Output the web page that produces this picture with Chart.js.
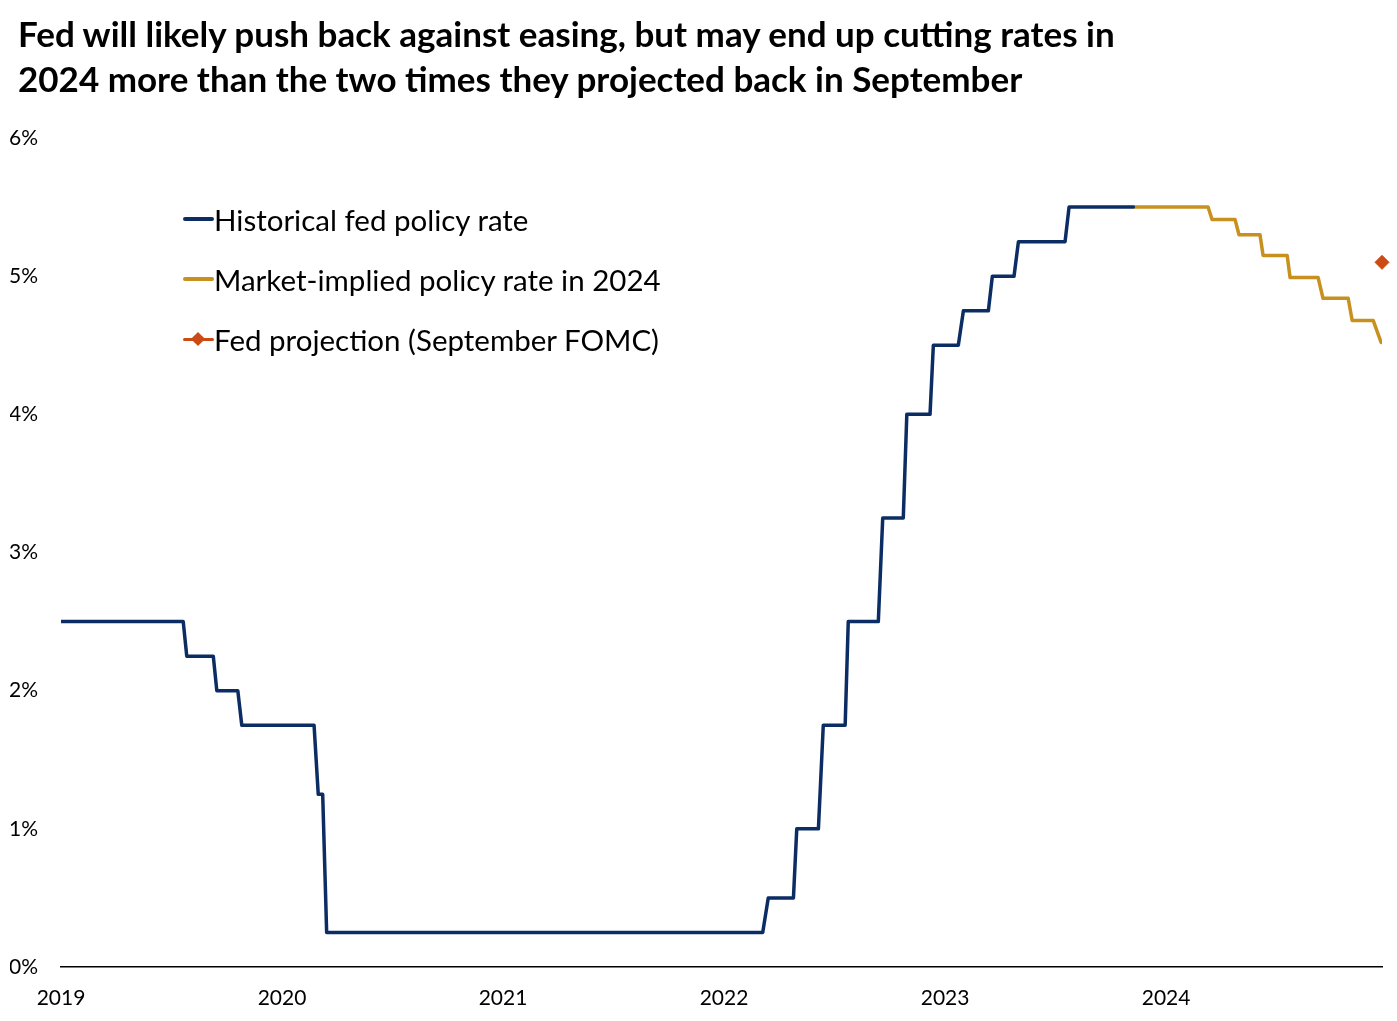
<!DOCTYPE html>
<html>
<head>
<meta charset="utf-8">
<script src="https://cdn.jsdelivr.net/npm/chart.js@4.4.1/dist/chart.umd.min.js"></script>
<style>
  html, body { margin: 0; padding: 0; background: #ffffff; }
  #wrap { position: relative; width: 1397px; height: 1021px; overflow: hidden; background: #fff; }
  #chart { position: absolute; left: 0; top: 0; }
  #title { position: absolute; left: 18px; top: 11px; font-family: Lato, "Open Sans", sans-serif; font-weight: 700;
           font-size: 35px; line-height: 45px; color: #000; white-space: nowrap; }
  #legend { position: absolute; left: 183px; top: 189px; font-family: Lato, "Open Sans", sans-serif; font-size: 29.5px; color: #000; }
  .row { height: 60px; display: flex; align-items: center; }
  .mk { position: relative; width: 31px; height: 20px; margin-right: 0px; }
  .mk .ln { position: absolute; left: 0; right: 0; top: 8px; height: 4px; border-radius: 2px; }
  .mk .dm { position: absolute; left: 10px; top: 5px; width: 10px; height: 10px; transform: rotate(45deg); transform-origin: center; }
</style>
</head>
<body>
<div id="wrap">
  <canvas id="chart" width="1397" height="1021"></canvas>
  <div id="title">Fed will likely push back against easing, but may end up cutting rates in<br>2024 more than the two times they projected back in September</div>
  <div id="legend"></div>
</div>
<script>
// ---- Data (x in decimal years, y in % policy rate) ----
const yearTicks = [2019, 2020, 2021, 2022, 2023, 2024];
const yTicks = [0, 1, 2, 3, 4, 5, 6];

const seriesLabels = ["Historical fed policy rate", "Market-implied policy rate in 2024", "Fed projection (September FOMC)"];

const histX = [2019.000, 2019.553, 2019.569, 2019.689, 2019.705, 2019.800, 2019.818, 2020.145, 2020.164, 2020.184, 2020.202,
               2022.175, 2022.200, 2022.314, 2022.329, 2022.427, 2022.449, 2022.548, 2022.562, 2022.698, 2022.718,
               2022.811, 2022.827, 2022.932, 2022.947, 2023.060, 2023.083, 2023.196, 2023.214, 2023.312, 2023.332,
               2023.543, 2023.561, 2023.852];
const histY = [2.50, 2.50, 2.25, 2.25, 2.00, 2.00, 1.75, 1.75, 1.25, 1.25, 0.25,
               0.25, 0.50, 0.50, 1.00, 1.00, 1.75, 1.75, 2.50, 2.50, 3.25,
               3.25, 4.00, 4.00, 4.50, 4.50, 4.75, 4.75, 5.00, 5.00, 5.25,
               5.25, 5.50, 5.50];

const mktX = [2023.852, 2024.190, 2024.208, 2024.312, 2024.330, 2024.425, 2024.439, 2024.548, 2024.561,
              2024.688, 2024.710, 2024.824, 2024.842, 2024.937, 2024.973, 2024.977];
const mktY = [5.50, 5.50, 5.41, 5.41, 5.30, 5.30, 5.15, 5.15, 4.99,
              4.99, 4.84, 4.84, 4.68, 4.68, 4.52, 4.52];

const projX = [2024.977];
const projY = [5.10];

const colors = ["#0B2D64", "#C8901F", "#CC4A14"];

const toPts = (xs, ys) => xs.map((x, i) => ({ x: x, y: ys[i] }));

const chart = new Chart(document.getElementById('chart'), {
  type: 'line',
  data: {
    datasets: [
      { label: seriesLabels[0], data: toPts(histX, histY), borderColor: colors[0], borderWidth: 3.5,
        pointRadius: 0, tension: 0, borderJoinStyle: 'round', borderCapStyle: 'round' },
      { label: seriesLabels[1], data: toPts(mktX, mktY), borderColor: colors[1], borderWidth: 3.5,
        pointRadius: 0, tension: 0, borderJoinStyle: 'round', borderCapStyle: 'butt' },
      { label: seriesLabels[2], data: toPts(projX, projY), borderColor: colors[2], backgroundColor: colors[2],
        showLine: false, pointStyle: 'rectRot', pointRadius: 7, pointBorderWidth: 1, clip: false }
    ]
  },
  options: {
    responsive: false,
    animation: false,
    devicePixelRatio: 1,
    layout: { padding: { left: 10, right: 15, top: 138, bottom: 0 } },
    plugins: { legend: { display: false }, tooltip: { enabled: false } },
    scales: {
      x: {
        type: 'linear', min: 2019, max: 2024.977,
        afterBuildTicks: (s) => { s.ticks = yearTicks.map(v => ({ value: v })); },
        afterFit: (s) => { s.height = 54; },
        ticks: { color: '#000', font: { family: 'Lato', size: 21 }, padding: 19, maxRotation: 0,
                 callback: (v) => String(v) },
        grid: { display: false, drawTicks: false },
        border: { display: true, color: '#000', width: 1.5 }
      },
      y: {
        min: 0, max: 6,
        afterBuildTicks: (s) => { s.ticks = yTicks.map(v => ({ value: v })); },
        afterFit: (s) => { s.width = 51; },
        ticks: { color: '#000', font: { family: 'Lato', size: 21 }, padding: 23,
                 callback: (v) => v + '%' },
        grid: { display: false, drawTicks: false },
        border: { display: false }
      }
    }
  }
});

// HTML legend built from the chart's datasets
const lg = document.getElementById('legend');
chart.data.datasets.forEach((ds, i) => {
  const row = document.createElement('div'); row.className = 'row';
  const mk = document.createElement('div'); mk.className = 'mk';
  const ln = document.createElement('div'); ln.className = 'ln';
  ln.style.background = ds.borderColor;
  if (i === 2) { ln.style.height = '3px'; ln.style.top = '8.5px'; }
  mk.appendChild(ln);
  if (i === 2) { const dm = document.createElement('div'); dm.className = 'dm'; dm.style.background = ds.borderColor; mk.appendChild(dm); }
  const tx = document.createElement('span'); tx.textContent = ds.label;
  row.appendChild(mk); row.appendChild(tx); lg.appendChild(row);
});
</script>
</body>
</html>
